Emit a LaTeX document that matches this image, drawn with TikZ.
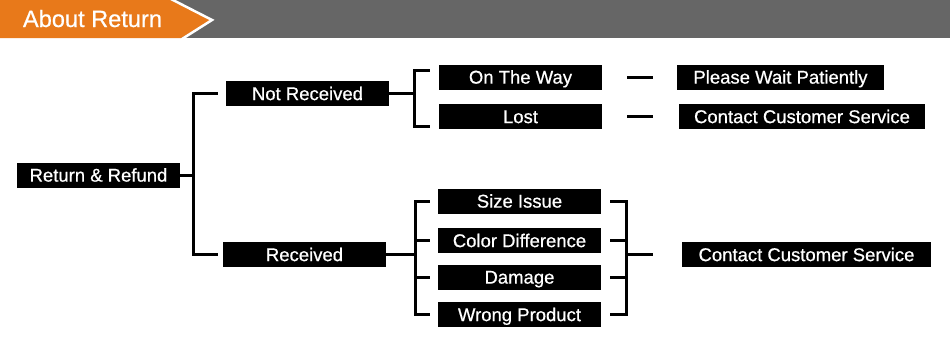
\documentclass[tikz,border=0pt]{standalone}
\usepackage{fontspec}
\setmainfont{Liberation Sans}
\newfontfamily\boxfont[FakeBold=0.6]{Liberation Sans}
\definecolor{headgray}{RGB}{102,102,102}
\definecolor{headorange}{RGB}{232,121,26}

\begin{document}
\begin{tikzpicture}[x=1pt,y=-1pt,
  box/.style={fill=black,text=white,inner sep=0pt,minimum height=25pt,
    text height=13.2pt,text depth=0pt,font=\boxfont\fontsize{18.5}{20}\selectfont},
  link/.style={line width=3pt}]
\useasboundingbox (0,0) rectangle (950,346);
% header band
\fill[headgray] (0,0) rectangle (950,38);
\fill[headorange] (0,0) -- (170,0) -- (211,20) -- (181,38) -- (0,38) -- cycle;
\draw[white,line width=2.5pt] (171,-1) -- (212,20) -- (182,39);
\node[white,inner sep=0pt,text height=17pt,text depth=0pt,
  font=\boxfont\fontsize{23.6}{26}\selectfont] (title) at (92.5,18.5) {About Return};
% boxes
\node[box,minimum width=163pt] (rr) at (98.5,175) {Return \& Refund};
\node[box,minimum width=163pt] (nrec) at (307.5,93.5) {Not Received};
\node[box,minimum width=163pt] (rec) at (304.5,254.5) {Received};
\node[box,minimum width=163pt] (way) at (520.5,77) {On The Way};
\node[box,minimum width=163pt] (lost) at (520.5,116.5) {Lost};
\node[box,minimum width=207pt] (wait) at (780.5,77) {Please Wait Patiently};
\node[box,minimum width=246pt] (cs1) at (802,116.5) {Contact Customer Service};
\foreach \n/\y/\t in {size/201/Size Issue,diff/240.5/Color Difference,
  damage/277/Damage,wrong/314.5/Wrong Product}
  \node[box,minimum width=163pt] (\n) at (519.5,\y) {\t};
\node[box,minimum width=249pt] (cs2) at (806.5,254.5) {Contact Customer Service};
% connectors
\coordinate (j1) at (193,175);
\draw[link] (rr) -- (j1);
\draw[link] ([xshift=-8pt]nrec.west) -| (j1) |- ([xshift=-5pt]rec.west);
\coordinate (j2) at (414,93.5);
\draw[link] (nrec) -- (j2);
\draw[link] ([xshift=-9pt,yshift=7pt]way.west) -| (j2)
  |- ([xshift=-9pt,yshift=-10pt]lost.west);
\draw[link,shorten <=25pt,shorten >=24pt] (way) -- (wait);
\draw[link,shorten <=25pt,shorten >=26pt] (lost) -- (cs1);
\coordinate (j3) at (415,254.5);
\draw[link] (rec) -- (j3);
\draw[link] ([xshift=-8pt]size.west) -| (j3) |- ([xshift=-8pt]wrong.west);
\foreach \n in {diff,damage} { \draw[link] ([xshift=-8pt]\n.west) -- (\n.west -| j3); }
\coordinate (j4) at (626,254.5);
\draw[link] ([xshift=9pt]size.east) -| (j4) |- ([xshift=9pt]wrong.east);
\foreach \n in {diff,damage} { \draw[link] ([xshift=9pt]\n.east) -- (\n.east -| j4); }
\draw[link,shorten >=29pt] (j4) -- (cs2);
\end{tikzpicture}
\end{document}
